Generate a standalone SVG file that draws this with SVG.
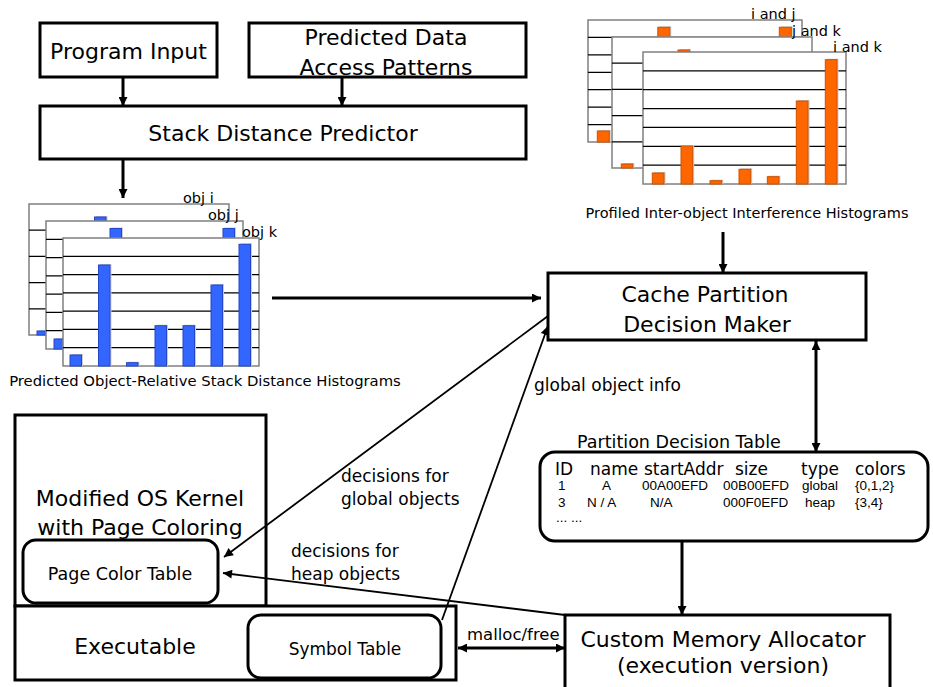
<svg xmlns="http://www.w3.org/2000/svg" width="933" height="687" viewBox="0 0 933 687">
<defs>
<style>
.box{fill:#fff;stroke:#000;stroke-width:3}
.rbox{fill:#fff;stroke:#000;stroke-width:3}
.t22{font-family:"DejaVu Sans",Verdana,sans-serif;font-size:22px;fill:#000}
.t17{font-family:"DejaVu Sans",Verdana,sans-serif;font-size:17px;fill:#000}
.t14{font-family:"DejaVu Sans",Verdana,sans-serif;font-size:14.5px;fill:#000}
.tr{font-family:"Liberation Sans",Arial,sans-serif;font-size:13.5px;fill:#000}
.mid{text-anchor:middle}
.frame{fill:#fff;stroke:#808080;stroke-width:1.5}
.grid{stroke:#000;stroke-width:1.3}
.bb{fill:#3366ff;stroke:#2347c8;stroke-width:1}
.ob{fill:#ff6600;stroke:#cc5200;stroke-width:1}
.sh{fill:#cccccc}
.ln{fill:none;stroke:#000;stroke-width:3}
.ld{fill:none;stroke:#000;stroke-width:1.8}
</style>
<marker id="ah" viewBox="0 0 10 10" refX="10" refY="5" markerWidth="10" markerHeight="9" markerUnits="userSpaceOnUse" orient="auto-start-reverse">
<path d="M0,0 L10,5 L0,10 z" fill="#000"/>
</marker>
</defs>
<rect width="933" height="687" fill="#fff"/>

<g id="program-input">
<rect class="box" x="40" y="23" width="177" height="54"/>
<text class="t22 mid" x="128.5" y="59">Program Input</text>
</g>

<g id="predicted-data">
<rect class="box" x="249" y="23" width="277" height="54"/>
<text class="t22 mid" x="386" y="45">Predicted Data</text>
<text class="t22 mid" x="386" y="75">Access Patterns</text>
</g>

<g id="stack-distance-predictor">
<rect class="box" x="40" y="106" width="486" height="53"/>
<text class="t22 mid" x="283" y="141">Stack Distance Predictor</text>
</g>

<g id="predicted-histograms">
<rect class="frame" x="29" y="204" width="200" height="131"/>
<line class="grid" x1="29" y1="230.2" x2="229" y2="230.2"/>
<line class="grid" x1="29" y1="256.4" x2="229" y2="256.4"/>
<line class="grid" x1="29" y1="282.6" x2="229" y2="282.6"/>
<line class="grid" x1="29" y1="308.8" x2="229" y2="308.8"/>
<rect class="sh" x="38.5" y="330" width="11.5" height="5"/>
<rect class="bb" x="37" y="331" width="11.5" height="4"/>
<rect class="sh" x="96" y="216" width="11.5" height="119"/>
<rect class="bb" x="94.5" y="217" width="11.5" height="118"/>

<rect class="frame" x="46" y="221" width="197" height="128"/>
<line class="grid" x1="46" y1="239.3" x2="243" y2="239.3"/>
<line class="grid" x1="46" y1="257.6" x2="243" y2="257.6"/>
<line class="grid" x1="46" y1="275.9" x2="243" y2="275.9"/>
<line class="grid" x1="46" y1="294.1" x2="243" y2="294.1"/>
<line class="grid" x1="46" y1="312.4" x2="243" y2="312.4"/>
<line class="grid" x1="46" y1="330.7" x2="243" y2="330.7"/>
<rect class="sh" x="55.5" y="338" width="11.5" height="11"/>
<rect class="bb" x="54" y="339" width="11.5" height="10"/>
<rect class="sh" x="111.5" y="227.5" width="11.5" height="121"/>
<rect class="bb" x="110" y="228.5" width="11.5" height="120.5"/>
<rect class="sh" x="224.5" y="227.5" width="11.5" height="121"/>
<rect class="bb" x="223" y="228.5" width="11.5" height="120.5"/>

<rect class="frame" x="63" y="238" width="196" height="128"/>
<line class="grid" x1="63" y1="256.3" x2="259" y2="256.3"/>
<line class="grid" x1="63" y1="274.6" x2="259" y2="274.6"/>
<line class="grid" x1="63" y1="292.9" x2="259" y2="292.9"/>
<line class="grid" x1="63" y1="311.1" x2="259" y2="311.1"/>
<line class="grid" x1="63" y1="329.4" x2="259" y2="329.4"/>
<line class="grid" x1="63" y1="347.7" x2="259" y2="347.7"/>
<rect class="sh" x="71.5" y="354" width="11.5" height="12"/>
<rect class="bb" x="70" y="355" width="11.5" height="11"/>
<rect class="sh" x="100" y="264" width="11.5" height="102"/>
<rect class="bb" x="98.5" y="265" width="11.5" height="101"/>
<rect class="sh" x="128" y="361.7" width="11.5" height="4.3"/>
<rect class="bb" x="126.5" y="362.7" width="11.5" height="3.3"/>
<rect class="sh" x="156.5" y="324.7" width="11.5" height="41.3"/>
<rect class="bb" x="155" y="325.7" width="11.5" height="40.3"/>
<rect class="sh" x="184.5" y="324.7" width="11.5" height="41.3"/>
<rect class="bb" x="183" y="325.7" width="11.5" height="40.3"/>
<rect class="sh" x="212.5" y="284" width="11.5" height="82"/>
<rect class="bb" x="211" y="285" width="11.5" height="81"/>
<rect class="sh" x="240.5" y="243.3" width="11.5" height="122.7"/>
<rect class="bb" x="239" y="244.3" width="11.5" height="121.7"/>

<text class="t14" x="183" y="203">obj i</text>
<text class="t14" x="208" y="220">obj j</text>
<text class="t14" x="242" y="237">obj k</text>
<text class="t14 mid" x="205" y="386" style="font-size:14.8px">Predicted Object-Relative Stack Distance Histograms</text>
</g>

<g id="profiled-histograms">
<rect class="frame" x="588" y="20" width="214" height="122"/>
<line class="grid" x1="588" y1="37.4" x2="802" y2="37.4"/>
<line class="grid" x1="588" y1="54.9" x2="802" y2="54.9"/>
<line class="grid" x1="588" y1="72.3" x2="802" y2="72.3"/>
<line class="grid" x1="588" y1="89.7" x2="802" y2="89.7"/>
<line class="grid" x1="588" y1="107.1" x2="802" y2="107.1"/>
<line class="grid" x1="588" y1="124.6" x2="802" y2="124.6"/>
<rect class="sh" x="598.8" y="130" width="12" height="12"/>
<rect class="ob" x="597.3" y="131" width="12" height="11"/>
<rect class="sh" x="659.3" y="26.3" width="12" height="115.7"/>
<rect class="ob" x="657.8" y="27.3" width="12" height="114.7"/>
<rect class="sh" x="780.8" y="26.3" width="12" height="115.7"/>
<rect class="ob" x="779.3" y="27.3" width="12" height="114.7"/>

<rect class="frame" x="612" y="37" width="200" height="131"/>
<line class="grid" x1="612" y1="63.2" x2="812" y2="63.2"/>
<line class="grid" x1="612" y1="89.4" x2="812" y2="89.4"/>
<line class="grid" x1="612" y1="115.6" x2="812" y2="115.6"/>
<line class="grid" x1="612" y1="141.8" x2="812" y2="141.8"/>
<rect class="sh" x="622.8" y="163" width="11.5" height="5"/>
<rect class="ob" x="621.3" y="164" width="11.5" height="4"/>
<rect class="sh" x="679.5" y="49" width="11.5" height="119"/>
<rect class="ob" x="678" y="50" width="11.5" height="118"/>

<rect class="frame" x="643" y="52" width="203" height="132"/>
<line class="grid" x1="643" y1="70.9" x2="846" y2="70.9"/>
<line class="grid" x1="643" y1="89.7" x2="846" y2="89.7"/>
<line class="grid" x1="643" y1="108.6" x2="846" y2="108.6"/>
<line class="grid" x1="643" y1="127.4" x2="846" y2="127.4"/>
<line class="grid" x1="643" y1="146.3" x2="846" y2="146.3"/>
<line class="grid" x1="643" y1="165.1" x2="846" y2="165.1"/>
<rect class="sh" x="653.8" y="172" width="11.7" height="12"/>
<rect class="ob" x="652.3" y="173" width="11.7" height="11"/>
<rect class="sh" x="682.5" y="145" width="11.7" height="39"/>
<rect class="ob" x="681" y="146" width="11.7" height="38"/>
<rect class="sh" x="711.5" y="179.7" width="11.7" height="4.3"/>
<rect class="ob" x="710" y="180.7" width="11.7" height="3.3"/>
<rect class="sh" x="740.5" y="168.3" width="11.7" height="15.7"/>
<rect class="ob" x="739" y="169.3" width="11.7" height="14.7"/>
<rect class="sh" x="768.8" y="175.7" width="11.7" height="8.3"/>
<rect class="ob" x="767.3" y="176.7" width="11.7" height="7.3"/>
<rect class="sh" x="797.8" y="100" width="11.7" height="84"/>
<rect class="ob" x="796.3" y="101" width="11.7" height="83"/>
<rect class="sh" x="826.8" y="58.7" width="11.7" height="125.3"/>
<rect class="ob" x="825.3" y="59.7" width="11.7" height="124.3"/>

<text class="t14" x="751" y="19">i and j</text>
<text class="t14" x="792" y="36">j and k</text>
<text class="t14" x="833" y="52">i and k</text>
<text class="t14 mid" x="747" y="218">Profiled Inter-object Interference Histograms</text>
</g>

<g id="cache-partition-decision-maker">
<rect class="box" x="548" y="273" width="318" height="67"/>
<text class="t22 mid" x="705" y="302">Cache Partition</text>
<text class="t22 mid" x="707" y="332">Decision Maker</text>
</g>

<g id="partition-decision-table">
<text class="t17" x="577" y="448" style="font-size:17.5px">Partition Decision Table</text>
<rect class="rbox" x="540" y="452" width="388" height="89" rx="15" ry="15"/>
<text class="t17" x="555" y="475">ID</text>
<text class="t17" x="590" y="475">name</text>
<text class="t17" x="644" y="475">startAddr</text>
<text class="t17" x="735" y="475">size</text>
<text class="t17" x="801" y="475">type</text>
<text class="t17" x="855" y="475">colors</text>
<text class="tr" x="558" y="490">1</text>
<text class="tr" x="602" y="490">A</text>
<text class="tr" x="642" y="490">00A00EFD</text>
<text class="tr" x="723" y="490">00B00EFD</text>
<text class="tr" x="802" y="490">global</text>
<text class="tr" x="855" y="490">{0,1,2}</text>
<text class="tr" x="558" y="507">3</text>
<text class="tr" x="587" y="507">N / A</text>
<text class="tr" x="650" y="507">N/A</text>
<text class="tr" x="723" y="507">000F0EFD</text>
<text class="tr" x="805" y="507">heap</text>
<text class="tr" x="855" y="507">{3,4}</text>
<text class="tr" x="556" y="522">... ...</text>
</g>

<g id="modified-os-kernel">
<rect class="box" x="15" y="415" width="251" height="191"/>
<text class="t22 mid" x="140" y="506">Modified OS Kernel</text>
<text class="t22 mid" x="140" y="535">with Page Coloring</text>
</g>

<g id="page-color-table">
<rect class="rbox" x="23" y="540" width="195" height="63" rx="13" ry="13"/>
<text class="t17 mid" x="120" y="580" style="font-size:17.5px">Page Color Table</text>
</g>

<g id="executable">
<rect class="box" x="15" y="606" width="441" height="74"/>
<text class="t22 mid" x="135" y="654">Executable</text>
</g>

<g id="symbol-table">
<rect class="rbox" x="248" y="615" width="193" height="63" rx="13" ry="13"/>
<text class="t17 mid" x="345" y="655">Symbol Table</text>
</g>

<g id="custom-memory-allocator">
<rect class="box" x="565" y="615" width="325" height="90"/>
<text class="t22 mid" x="723" y="647">Custom Memory Allocator</text>
<text class="t22 mid" x="723" y="673">(execution version)</text>
</g>

<g id="connectors">
<line class="ln" x1="123" y1="77" x2="123" y2="106" marker-end="url(#ah)"/>
<line class="ln" x1="342" y1="77" x2="342" y2="106" marker-end="url(#ah)"/>
<line class="ln" x1="123" y1="159" x2="123" y2="198" marker-end="url(#ah)"/>
<line class="ln" x1="272" y1="298" x2="541" y2="298" marker-end="url(#ah)"/>
<line class="ln" x1="723" y1="232" x2="723" y2="273" marker-end="url(#ah)"/>
<line class="ln" x1="816" y1="341" x2="816" y2="452" marker-start="url(#ah)" marker-end="url(#ah)"/>
<line class="ln" x1="682" y1="541" x2="682" y2="615" marker-end="url(#ah)"/>
<line class="ln" x1="458" y1="648" x2="565" y2="648" marker-start="url(#ah)" marker-end="url(#ah)"/>
<line class="ld" x1="548" y1="316" x2="224" y2="557" marker-end="url(#ah)"/>
<line class="ld" x1="442" y1="620" x2="548" y2="326" marker-end="url(#ah)"/>
<line class="ld" x1="565" y1="615" x2="223" y2="573" marker-end="url(#ah)"/>
<text class="t17" x="534" y="391">global object info</text>
<text class="t17" x="341" y="482">decisions for</text>
<text class="t17" x="341" y="505">global objects</text>
<text class="t17" x="291" y="557">decisions for</text>
<text class="t17" x="291" y="580">heap objects</text>
<text class="t17" x="467" y="640" style="font-size:16.5px">malloc/free</text>
</g>
</svg>
